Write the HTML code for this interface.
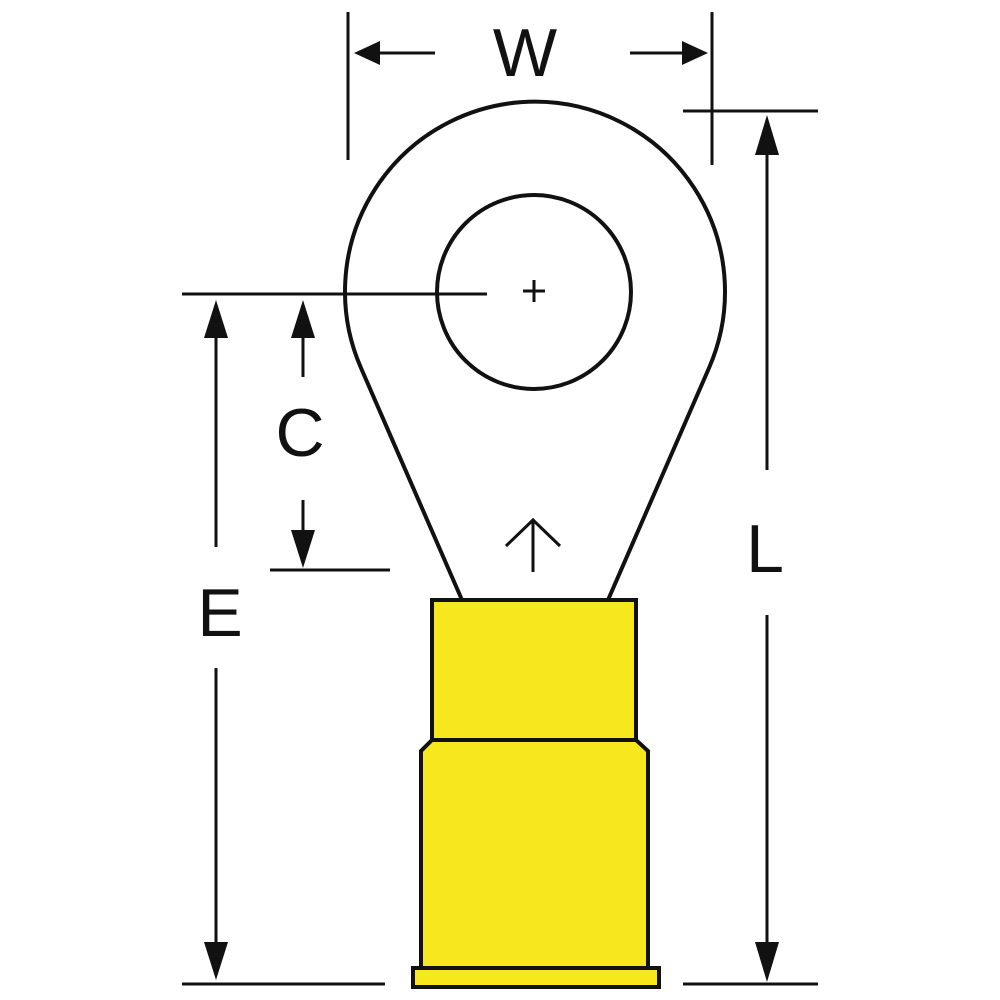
<!DOCTYPE html>
<html><head><style>html,body{margin:0;padding:0;background:#fff}svg{display:block}</style></head>
<body>
<svg width="1000" height="1000" viewBox="0 0 1000 1000" xmlns="http://www.w3.org/2000/svg">
<g stroke="#111" stroke-width="4" fill="none">
<path d="M462 600 L361 368 A190 190 0 1 1 709 368 L608 600" fill="#fff"/>
<circle cx="534" cy="292" r="97"/>
<path d="M432 600 H636 V740 H432 Z" fill="#f7e81e"/>
<path d="M432 740 L421 751 V968 H648 V751 L636 740 Z" fill="#f7e81e"/>
<rect x="413" y="968" width="246" height="19" fill="#f7e81e"/>
</g>
<g stroke="#111" stroke-width="3" fill="none">
<path d="M523 291 h22 M534 280 v22"/>
<path d="M348 12 V160 M712 12 V165"/>
<path d="M370 53 H435 M630 53 H690"/>
<path d="M683 111 H818 M683 984 H818 M767 130 V470 M767 615 V965"/>
<path d="M182 294 H487 M182 984 H385 M216 320 V547 M216 668 V960"/>
<path d="M303 320 V377 M303 500 V550 M270 570 H390"/>
<path d="M533 572 V520 M506 546 L533 520 L560 546"/>
</g>
<g fill="#111">
<path d="M354 53 L380 41 V65 Z"/>
<path d="M708 53 L682 41 V65 Z"/>
<path d="M767 115 L755 155 H779 Z"/>
<path d="M767 982 L755 942 H779 Z"/>
<path d="M216 300 L204 338 H228 Z"/>
<path d="M216 980 L204 942 H228 Z"/>
<path d="M303 300 L291 338 H315 Z"/>
<path d="M303 568 L291 530 H315 Z"/>
</g>
<g font-family="Liberation Sans, sans-serif" font-size="68" fill="#111" text-anchor="middle">
<text x="525" y="76">W</text>
<text x="300" y="456">C</text>
<text x="220" y="636">E</text>
<text x="765" y="572">L</text>
</g>
</svg>
</body></html>
